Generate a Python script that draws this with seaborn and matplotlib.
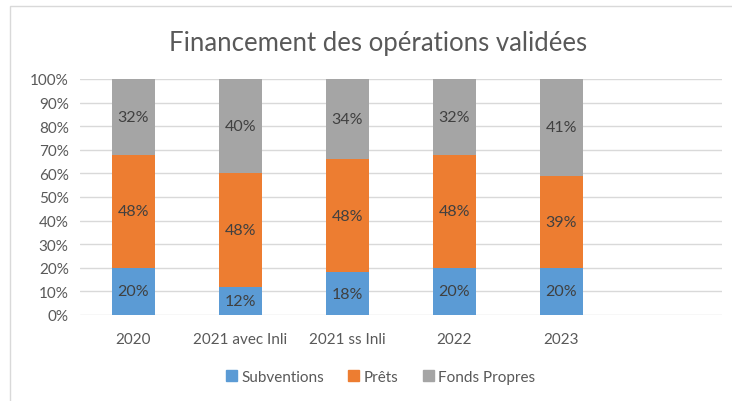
import matplotlib
matplotlib.use("Agg")
import matplotlib.pyplot as plt
import matplotlib.patches as mpatches
from matplotlib.ticker import PercentFormatter
import pandas as pd
import seaborn as sns

annees = ["2020", "2021 avec Inli", "2021 ss Inli", "2022", "2023"]
subventions = [20, 12, 18, 20, 20]
prets = [48, 48, 48, 48, 39]
fonds_propres = [32, 40, 34, 32, 41]

bleu = "#5B9BD5"
orange = "#ED7D31"
gris = "#A5A5A5"
texte = "#595959"

sns.set_theme(style="white")
plt.rcParams["font.family"] = ["Lato", "DejaVu Sans"]

df = pd.DataFrame({"annee": annees, "sub": subventions, "pret": prets, "fp": fonds_propres})
df["cum_pret"] = df["sub"] + df["pret"]
df["cum_fp"] = df["cum_pret"] + df["fp"]

fig = plt.figure(figsize=(7.32, 4.02), dpi=100)
ax = fig.add_axes([0.109, 0.214, 0.877, 0.587])

for col, c in [("cum_fp", gris), ("cum_pret", orange), ("sub", bleu)]:
    sns.barplot(data=df, x="annee", y=col, color=c, width=0.4,
                saturation=1, linewidth=0, ax=ax, zorder=3)

# étiquettes centrées dans chaque segment
for i in range(len(annees)):
    bas = 0
    for v in [subventions[i], prets[i], fonds_propres[i]]:
        ax.text(i, bas + v / 2, f"{v}%", ha="center", va="center",
                fontsize=11.5, color="#404040", zorder=4)
        bas += v

ax.set_xlim(-0.5, 5.5)
ax.set_ylim(0, 100)
ax.set_yticks(range(0, 101, 10))
ax.yaxis.set_major_formatter(PercentFormatter(decimals=0))
ax.grid(axis="y", color="#D9D9D9", linewidth=1, zorder=0)
ax.set_xlabel("")
ax.set_ylabel("")
for s in ax.spines.values():
    s.set_visible(False)
ax.tick_params(axis="both", length=0, labelsize=11, labelcolor=texte)
ax.tick_params(axis="x", pad=12)
ax.tick_params(axis="y", pad=8)

fig.text(0.517, 0.893, "Financement des opérations validées", ha="center",
         va="center", fontsize=18.5, color=texte)

handles = [mpatches.Patch(color=bleu, label="Subventions"),
           mpatches.Patch(color=orange, label="Prêts"),
           mpatches.Patch(color=gris, label="Fonds Propres")]
fig.legend(handles=handles, loc="center", bbox_to_anchor=(0.52, 0.06), ncol=3,
           frameon=False, fontsize=11, labelcolor=texte, handlelength=0.7,
           handleheight=0.7, handletextpad=0.3, columnspacing=1.6)

fig.patches.append(mpatches.Rectangle((0.014, -0.01), 1.0, 0.993, transform=fig.transFigure,
                                      fill=False, edgecolor="#D9D9D9", linewidth=1))

fig.savefig("out.png", dpi=100)
